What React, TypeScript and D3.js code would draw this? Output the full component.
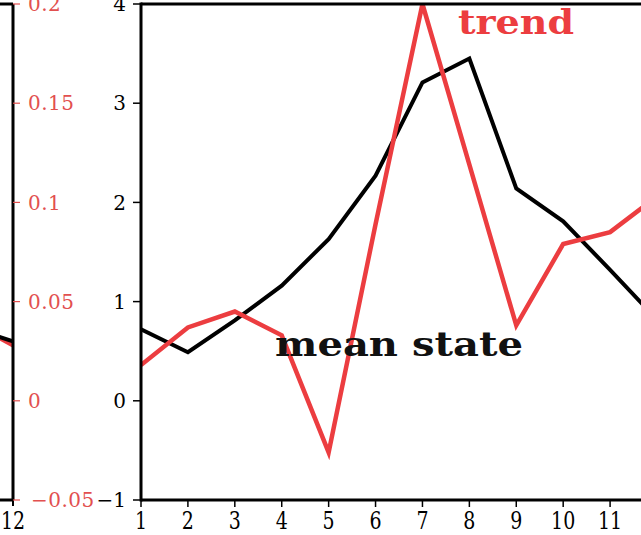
import React from "react";
import * as d3 from "d3";

const months = [1, 2, 3, 4, 5, 6, 7, 8, 9, 10, 11, 12];
const meanState = [0.72, 0.49, 0.81, 1.16, 1.63, 2.27, 3.21, 3.45, 2.14, 1.81, 1.32, 0.82];
const trend = [0.018, 0.037, 0.045, 0.033, -0.026, 0.089, 0.2, 0.119, 0.038, 0.079, 0.085, 0.103];

const prevMonths = [11, 12];
const prevMean = [0.75, 0.6];
const prevTrend = [0.041, 0.028];

const leftTicks = [-1, 0, 1, 2, 3, 4];
const rightTicks = [-0.05, 0, 0.05, 0.1, 0.15, 0.2];
const rightTickLabels = ["\u22120.05", "0", "0.05", "0.1", "0.15", "0.2"];

const RED = "#ec3d40";
const RED_TXT = "#e2504f";
const SERIF = "'DejaVu Serif', 'Liberation Serif', serif";

export default function App() {
  const W = 641, H = 535;
  const top = 4, bottom = 500;
  const panelW = 516;
  const mainLeft = 141;
  const prevRight = 13;

  const x = d3.scaleLinear().domain([1, 12]).range([mainLeft, mainLeft + panelW]);
  const xPrev = d3.scaleLinear().domain([1, 12]).range([prevRight - panelW, prevRight]);
  const yL = d3.scaleLinear().domain([-1, 4]).range([bottom, top]);
  const yR = d3.scaleLinear().domain([-0.05, 0.2]).range([bottom, top]);

  const meanLine = d3.line<number>().x((_, i) => x(months[i])).y((d) => yL(d));
  const trendLine = d3.line<number>().x((_, i) => x(months[i])).y((d) => yR(d));
  const prevMeanLine = d3.line<number>().x((_, i) => xPrev(prevMonths[i])).y((d) => yL(d));
  const prevTrendLine = d3.line<number>().x((_, i) => xPrev(prevMonths[i])).y((d) => yR(d));

  const xLabY = bottom + 29;
  const stretch = `translate(0,${xLabY * -0.25}) scale(1,1.25)`;

  return (
    <div style={{ position: "absolute", left: 0, top: 0 }}>
      <svg width={W} height={H} style={{ display: "block", background: "#fff" }}>
        <defs>
          <clipPath id="clipMain">
            <rect x={mainLeft} y={0} width={panelW} height={bottom + 2} />
          </clipPath>
          <clipPath id="clipPrev">
            <rect x={prevRight - panelW} y={top} width={panelW} height={bottom - top} />
          </clipPath>
        </defs>

        {/* previous panel (partially visible) */}
        <g clipPath="url(#clipPrev)">
          <path d={prevTrendLine(prevTrend) || ""} fill="none" stroke={RED} strokeWidth={4.5} />
          <path d={prevMeanLine(prevMean) || ""} fill="none" stroke="#000" strokeWidth={4} />
        </g>
        <line x1={-5} x2={prevRight} y1={top} y2={top} stroke="#000" strokeWidth={3} />
        <line x1={-5} x2={prevRight} y1={bottom} y2={bottom} stroke="#000" strokeWidth={3} />
        <line x1={prevRight} x2={prevRight} y1={top} y2={bottom} stroke="#000" strokeWidth={3} />
        <line x1={prevRight} x2={prevRight} y1={bottom} y2={bottom + 6} stroke="#000" strokeWidth={2} />
        <text x={prevRight} y={xLabY} textAnchor="middle" fontFamily={SERIF} fontSize={19}
          transform={stretch} fill="#000">12</text>
        {rightTicks.map((t, i) => (
          <g key={"r" + i}>
            <line x1={prevRight} x2={prevRight + 7} y1={yR(t)} y2={yR(t)} stroke={RED_TXT} strokeWidth={1.2} />
            <text x={t < 0 ? 31 : 28} y={yR(t)} dy="0.36em" fontFamily={SERIF} fontSize={20} fill={RED_TXT}
              letterSpacing={0.5}>
              {rightTickLabels[i]}
            </text>
          </g>
        ))}

        {/* main panel */}
        <g clipPath="url(#clipMain)">
          <path d={meanLine(meanState) || ""} fill="none" stroke="#000" strokeWidth={4} strokeLinejoin="miter" />
          <path d={trendLine(trend) || ""} fill="none" stroke={RED} strokeWidth={4.5} strokeLinejoin="miter" />
        </g>
        <line x1={mainLeft} x2={W + 5} y1={top} y2={top} stroke="#000" strokeWidth={3} />
        <line x1={mainLeft} x2={W + 5} y1={bottom} y2={bottom} stroke="#000" strokeWidth={3} />
        <line x1={mainLeft} x2={mainLeft} y1={top - 1.5} y2={bottom + 1.5} stroke="#000" strokeWidth={3} />

        {leftTicks.map((t) => (
          <g key={"l" + t}>
            <line x1={mainLeft - 8} x2={mainLeft} y1={yL(t)} y2={yL(t)} stroke="#000" strokeWidth={1.5} />
            <text x={126} y={yL(t)} dy="0.36em" textAnchor="end" fontFamily={SERIF} fontSize={20} fill="#000">
              {t < 0 ? "\u2212" + Math.abs(t) : t}
            </text>
          </g>
        ))}
        {months.map((m) => (
          <g key={"x" + m}>
            <line x1={x(m)} x2={x(m)} y1={bottom} y2={bottom + 7} stroke="#000" strokeWidth={1.5} />
            <text x={x(m)} y={xLabY} textAnchor="middle" fontFamily={SERIF} fontSize={19}
              transform={stretch} fill="#000">{m}</text>
          </g>
        ))}

        <text x={458} y={34} fontFamily={SERIF} fontWeight="bold" fontSize={34} fill={RED}
          textLength={116} lengthAdjust="spacingAndGlyphs">trend</text>
        <text x={275} y={356} fontFamily={SERIF} fontWeight="bold" fontSize={34} fill="#111"
          textLength={248} lengthAdjust="spacingAndGlyphs">mean state</text>
      </svg>
    </div>
  );
}
